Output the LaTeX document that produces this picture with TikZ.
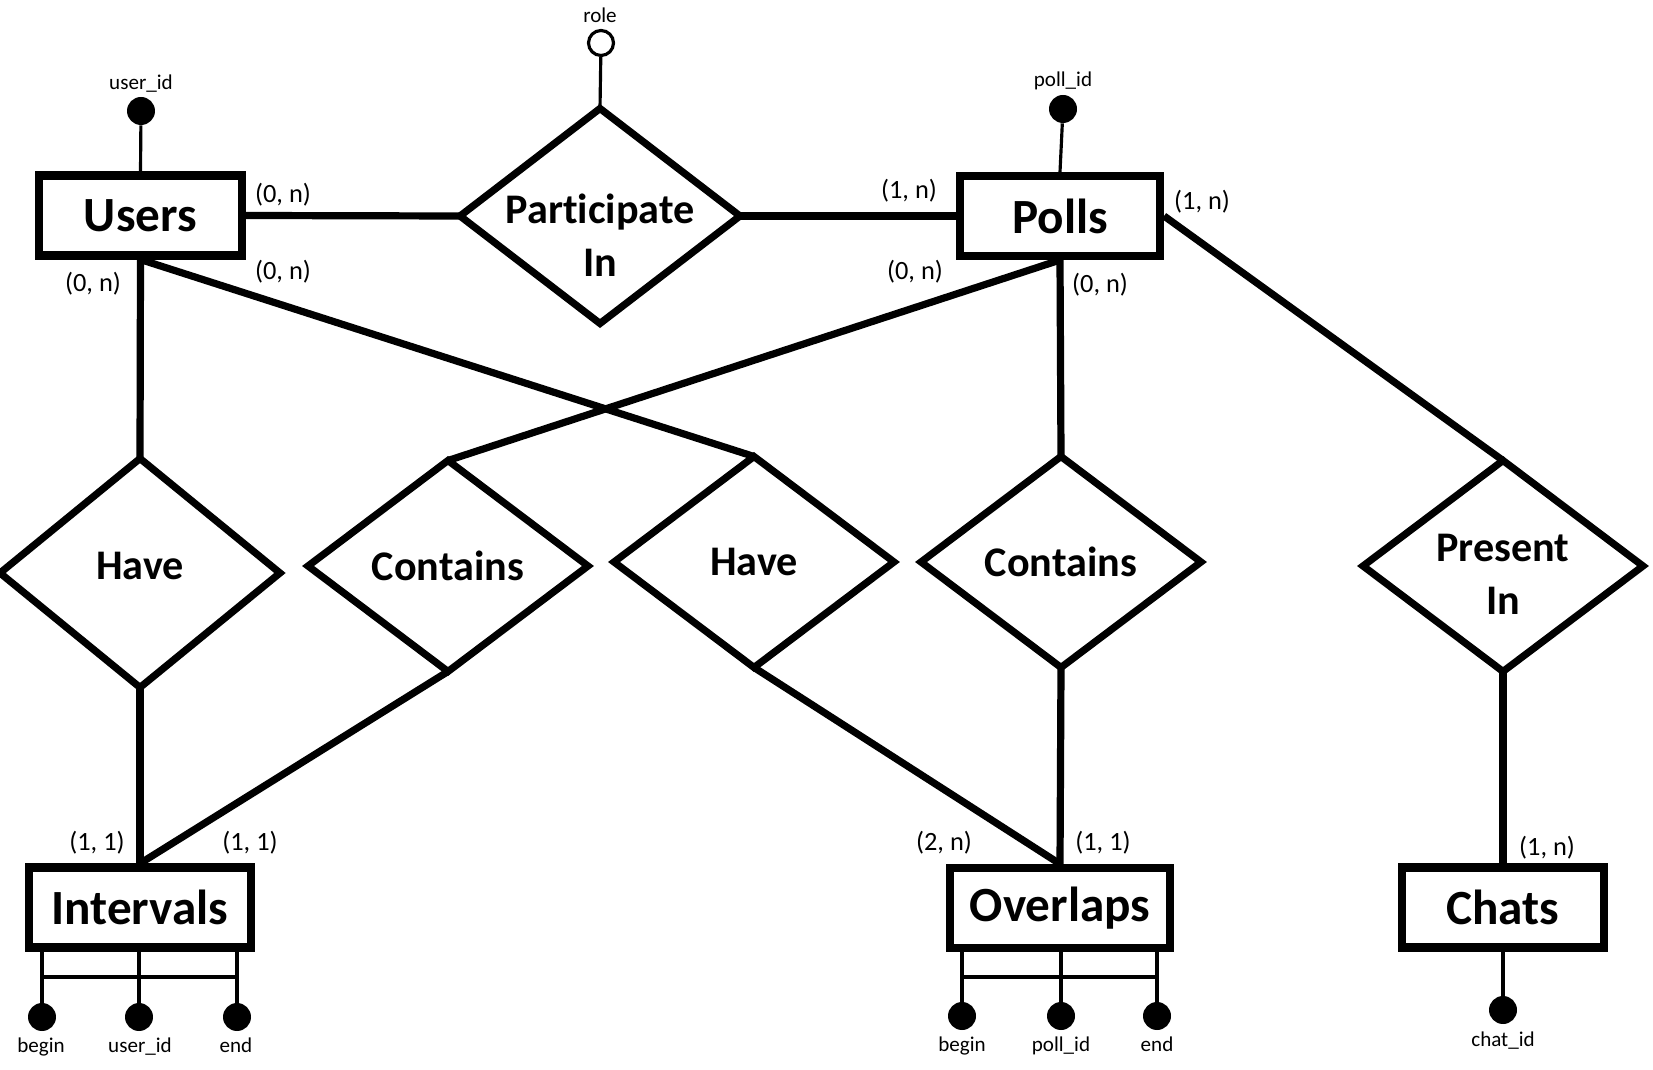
\documentclass[tikz,border=0pt]{standalone}
\usepackage{fontspec}
\setmainfont[Ligatures=NoCommon]{Carlito}
\usetikzlibrary{shapes.geometric}

\begin{document}
\begin{tikzpicture}[x=0.02cm, y=-0.02cm,
	entity/.style={draw, line width=4.6pt, fill=white, minimum height=1.6cm, inner sep=0pt, font=\fontsize{28}{34}\selectfont\bfseries},
	relation/.style={diamond, draw, line width=4.1pt, fill=white, minimum width=5.6cm, minimum height=4.22cm, inner sep=0pt, outer sep=0pt},
	reltext/.style={align=center, font=\fontsize{24}{30}\selectfont\bfseries},
	card/.style={font=\fontsize{15}{18}\selectfont},
	key/.style={circle, fill=black, inner sep=0pt, minimum size=0.56cm},
	attrname/.style={anchor=base, font=\fontsize{12}{14}\selectfont},
	link/.style={line width=4.1pt},
	attrline/.style={line width=1.8pt}]
	\useasboundingbox (0,0) rectangle (1653,1070);

	% entities
	\node[entity, minimum width=4.06cm] (users) at (140.5,215.5) {Users};
	\node[entity, minimum width=4.0cm] (polls) at (1060,216) {Polls};
	\node[entity, minimum width=4.44cm] (intervals) at (140,907.5) {Intervals};
	\node[entity, minimum width=4.4cm] (overlaps) at (1060,908) {Overlaps};
	\node[entity, minimum width=4.04cm] (chats) at (1503,907.5) {Chats};

	% relations
	\node[relation, minimum height=4.3cm] (participate) at (600,216) {};
	\node[relation, minimum height=4.58cm] (have1) at (140,573) {};
	\node[relation] (contains1) at (448,566) {};
	\node[relation] (have2) at (754,562) {};
	\node[relation] (contains2) at (1061,562) {};
	\node[relation] (present) at (1503,566) {};
	\node[reltext] (participate-t) at (600,235) {Participate\\In};
	\node[reltext] (have1-t) at (140,566) {Have};
	\node[reltext] (contains1-t) at (448,566) {Contains};
	\node[reltext] (have2-t) at (754,562) {Have};
	\node[reltext] (contains2-t) at (1061,562) {Contains};
	\node[reltext] (present-t) at (1503,574) {Present\\In};

	% links
	\draw[link] (users.east) -- (participate.west);
	\draw[link] (participate.east) -- (polls.west);
	\draw[link] (users.south) -- (have1.north);
	\draw[link] (users.south) -- (have2.north);
	\draw[link] (polls.south) -- (contains1.north);
	\draw[link] (polls.south) -- (contains2.north);
	\draw[link] (polls.east) -- (present.north);
	\draw[link] (have1.south) -- (intervals.north);
	\draw[link] (contains1.south) -- (intervals.north);
	\draw[link] (have2.south) -- (overlaps.north);
	\draw[link] (contains2.south) -- (overlaps.north);
	\draw[link] (present.south) -- (chats.north);

	% cardinalities
	\node[card] (c-ua) at (283,195) {(0, n)};
	\node[card] (c-uh2) at (283,272) {(0, n)};
	\node[card] (c-uh1) at (93,284) {(0, n)};
	\node[card] (c-pa) at (909,191) {(1, n)};
	\node[card] (c-pp) at (1202,202) {(1, n)};
	\node[card] (c-pc1) at (915,272) {(0, n)};
	\node[card] (c-pc2) at (1100,285) {(0, n)};
	\node[card] (c-ih1) at (97,843) {(1, 1)};
	\node[card] (c-ic1) at (250,843) {(1, 1)};
	\node[card] (c-oh2) at (944,843) {(2, n)};
	\node[card] (c-oc2) at (1103,843) {(1, 1)};
	\node[card] (c-cp) at (1547,848) {(1, n)};

	% attributes
	\node[key] (user-id) at (141,111) {};
	\node[key] (poll-id) at (1063,109) {};
	\node[circle, draw, line width=1.8pt, inner sep=0pt, minimum size=0.5cm] (role) at (601,43) {};
	\node[key] (chat-id) at (1503,1010) {};
	\draw[attrline] (user-id) -- (users.north);
	\draw[attrline] (poll-id) -- (polls.north);
	\draw[attrline] (role) -- (participate.north);
	\draw[attrline] (chat-id) -- (chats.south);
	\node[attrname] (user-id-t) at (141,90) {user\_id};
	\node[attrname] (poll-id-t) at (1063,87) {poll\_id};
	\node[attrname] (role-t) at (600,23) {role};
	\node[attrname] (chat-id-t) at (1503,1046) {chat\_id};

	\coordinate (bar) at (0,977);
	\node[key] (iv-begin) at (42,1017) {};
	\node[key] (iv-user) at (139,1017) {};
	\node[key] (iv-end) at (237,1017) {};
	\foreach \a in {iv-begin, iv-user, iv-end}
		\draw[attrline] (\a) -- (\a |- intervals.south);
	\draw[attrline] (iv-begin |- bar) -- (iv-end |- bar);
	\node[attrname] (iv-begin-t) at (41,1052) {begin};
	\node[attrname] (iv-user-t) at (140,1052) {user\_id};
	\node[attrname] (iv-end-t) at (236,1052) {end};

	\node[key] (ov-begin) at (962,1016) {};
	\node[key] (ov-poll) at (1061,1016) {};
	\node[key] (ov-end) at (1157,1016) {};
	\foreach \a in {ov-begin, ov-poll, ov-end}
		\draw[attrline] (\a) -- (\a |- overlaps.south);
	\draw[attrline] (ov-begin |- bar) -- (ov-end |- bar);
	\node[attrname] (ov-begin-t) at (962,1051) {begin};
	\node[attrname] (ov-poll-t) at (1061,1051) {poll\_id};
	\node[attrname] (ov-end-t) at (1157,1051) {end};
\end{tikzpicture}
\end{document}
